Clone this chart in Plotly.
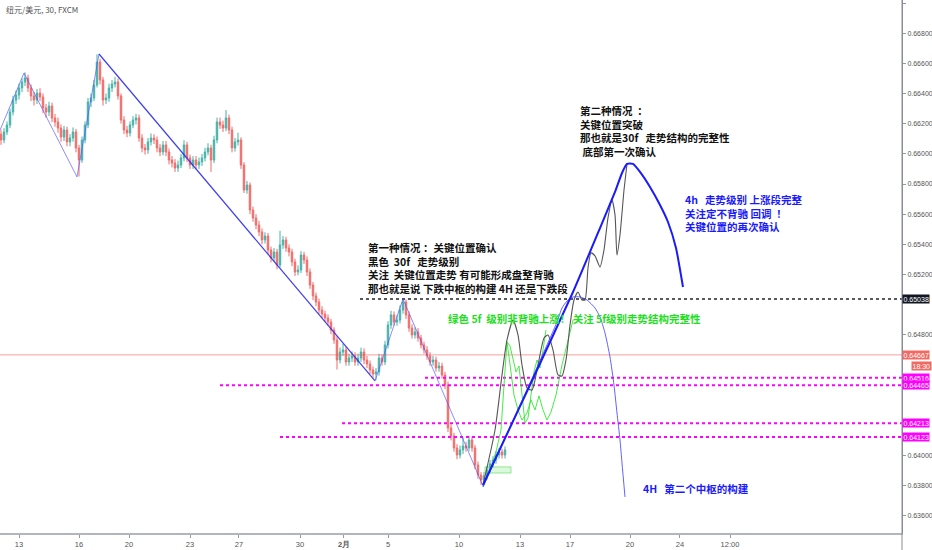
import plotly.graph_objects as go

# ---------------- candle data (30-min NZD/USD, condensed) ----------------
first_open = 0.66130
closes = [
    0.66092, 0.66145, 0.66191, 0.66277, 0.66357, 0.66390, 0.66437, 0.66476, 0.66503, 0.66437,
    0.66384, 0.66357, 0.66403, 0.66377, 0.66304, 0.66277, 0.66317, 0.66238, 0.66211, 0.66171,
    0.66112, 0.66158, 0.66079, 0.66105, 0.66145, 0.66039, 0.65959, 0.66092, 0.66191, 0.66344,
    0.66370, 0.66456, 0.66609, 0.66490, 0.66357, 0.66370, 0.66437, 0.66463, 0.66476, 0.66384,
    0.66224, 0.66158, 0.66138, 0.66191, 0.66224, 0.66238, 0.66105, 0.66039, 0.66026, 0.66079,
    0.66105, 0.66092, 0.66039, 0.66012, 0.66059, 0.66012, 0.65959, 0.65939, 0.65906, 0.65926,
    0.65973, 0.66059, 0.65973, 0.65926, 0.65959, 0.65926, 0.65946, 0.65973, 0.66012, 0.66039,
    0.65959, 0.66092, 0.66211, 0.66191, 0.66171, 0.66238, 0.66158, 0.66039, 0.66079, 0.66092,
    0.65926, 0.65760, 0.65793, 0.65628, 0.65575, 0.65528, 0.65482, 0.65429, 0.65455, 0.65363,
    0.65310, 0.65349, 0.65263, 0.65396, 0.65429, 0.65376, 0.65349, 0.65283, 0.65217, 0.65230,
    0.65329, 0.65296, 0.65217, 0.65130, 0.65058, 0.65018, 0.64965, 0.64938, 0.64912, 0.64885,
    0.64832, 0.64766, 0.64633, 0.64686, 0.64700, 0.64620, 0.64646, 0.64660, 0.64620, 0.64646,
    0.64686, 0.64633, 0.64607, 0.64567, 0.64540, 0.64554, 0.64646, 0.64620, 0.64733, 0.64865,
    0.64932, 0.64885, 0.64898, 0.64965, 0.65018, 0.64932, 0.64845, 0.64799, 0.64819, 0.64779,
    0.64733, 0.64700, 0.64660, 0.64620, 0.64633, 0.64580, 0.64593, 0.64534, 0.64467, 0.64182,
    0.64129, 0.64050, 0.64003, 0.64037, 0.64063, 0.64050, 0.64103, 0.64050, 0.63937, 0.63871,
    0.63838, 0.63864, 0.63904, 0.63944, 0.63970, 0.64003, 0.64023, 0.64003, 0.64037,
]
highs = [
    0.66160, 0.66170, 0.66215, 0.66300, 0.66385, 0.66420, 0.66465, 0.66500, 0.66540, 0.66525,
    0.66460, 0.66410, 0.66430, 0.66435, 0.66400, 0.66330, 0.66345, 0.66340, 0.66265, 0.66240,
    0.66195, 0.66185, 0.66180, 0.66130, 0.66175, 0.66165, 0.66060, 0.66115, 0.66215, 0.66370,
    0.66400, 0.66490, 0.66660, 0.66630, 0.66510, 0.66400, 0.66465, 0.66490, 0.66510, 0.66500,
    0.66400, 0.66250, 0.66185, 0.66215, 0.66250, 0.66265, 0.66260, 0.66130, 0.66065, 0.66105,
    0.66135, 0.66130, 0.66115, 0.66065, 0.66085, 0.66085, 0.66035, 0.65985, 0.65965, 0.65955,
    0.66000, 0.66090, 0.66080, 0.65995, 0.65985, 0.65985, 0.65975, 0.66000, 0.66040, 0.66070,
    0.66060, 0.66120, 0.66240, 0.66240, 0.66220, 0.66290, 0.66260, 0.66180, 0.66105, 0.66140,
    0.66110, 0.65945, 0.65820, 0.65810, 0.65650, 0.65600, 0.65555, 0.65505, 0.65480, 0.65475,
    0.65385, 0.65375, 0.65370, 0.65490, 0.65455, 0.65450, 0.65400, 0.65370, 0.65305, 0.65260,
    0.65355, 0.65350, 0.65320, 0.65240, 0.65150, 0.65080, 0.65040, 0.64990, 0.64960, 0.64935,
    0.64905, 0.64850, 0.64790, 0.64715, 0.64740, 0.64720, 0.64675, 0.64690, 0.64685, 0.64675,
    0.64715, 0.64710, 0.64660, 0.64630, 0.64590, 0.64580, 0.64675, 0.64670, 0.64760, 0.64890,
    0.64960, 0.64955, 0.64930, 0.64995, 0.65040, 0.65035, 0.64955, 0.64870, 0.64850, 0.64845,
    0.64800, 0.64755, 0.64725, 0.64685, 0.64660, 0.64655, 0.64620, 0.64615, 0.64555, 0.64490,
    0.64205, 0.64150, 0.64075, 0.64065, 0.64120, 0.64090, 0.64130, 0.64125, 0.64070, 0.63960,
    0.63890, 0.63890, 0.63930, 0.63970, 0.63995, 0.64030, 0.64050, 0.64045, 0.64060,
]
lows = [
    0.66060, 0.66070, 0.66125, 0.66170, 0.66255, 0.66330, 0.66360, 0.66410, 0.66450, 0.66410,
    0.66350, 0.66320, 0.66330, 0.66350, 0.66270, 0.66240, 0.66250, 0.66210, 0.66180, 0.66140,
    0.66080, 0.66085, 0.66050, 0.66050, 0.66080, 0.66010, 0.65850, 0.65940, 0.66070, 0.66170,
    0.66310, 0.66350, 0.66440, 0.66460, 0.66320, 0.66330, 0.66345, 0.66410, 0.66440, 0.66360,
    0.66200, 0.66130, 0.66110, 0.66115, 0.66170, 0.66195, 0.66080, 0.66010, 0.65995, 0.66000,
    0.66055, 0.66065, 0.66010, 0.65985, 0.65990, 0.65985, 0.65930, 0.65910, 0.65880, 0.65880,
    0.65905, 0.65950, 0.65945, 0.65900, 0.65900, 0.65900, 0.65900, 0.65920, 0.65950, 0.65990,
    0.65880, 0.65940, 0.66070, 0.66165, 0.66145, 0.66150, 0.66130, 0.66010, 0.66015, 0.66055,
    0.65900, 0.65740, 0.65735, 0.65600, 0.65550, 0.65500, 0.65455, 0.65400, 0.65405, 0.65335,
    0.65280, 0.65285, 0.65235, 0.65245, 0.65370, 0.65350, 0.65320, 0.65255, 0.65190, 0.65195,
    0.65210, 0.65270, 0.65190, 0.65105, 0.65030, 0.64990, 0.64940, 0.64910, 0.64885, 0.64860,
    0.64805, 0.64740, 0.64570, 0.64610, 0.64660, 0.64595, 0.64595, 0.64620, 0.64595, 0.64595,
    0.64620, 0.64605, 0.64580, 0.64540, 0.64515, 0.64500, 0.64530, 0.64595, 0.64600, 0.64710,
    0.64840, 0.64860, 0.64860, 0.64875, 0.64940, 0.64905, 0.64820, 0.64775, 0.64775, 0.64755,
    0.64710, 0.64675, 0.64635, 0.64595, 0.64595, 0.64555, 0.64555, 0.64510, 0.64440, 0.64155,
    0.64100, 0.64025, 0.63975, 0.63980, 0.64010, 0.64025, 0.64030, 0.64025, 0.63910, 0.63845,
    0.63805, 0.63815, 0.63840, 0.63880, 0.63920, 0.63945, 0.63980, 0.63980, 0.63980,
]
opens = [first_open] + closes[:-1]
bars = list(range(len(closes)))

# ---------------- axes ----------------
x_tick_bars = [6, 26, 42.67, 63, 79.33, 99.67, 114.33, 129, 152.67, 173, 189.67, 209.67, 226.33, 243]
x_tick_text = ["13", "16", "20", "23", "27", "30", "<b>2月</b>", "5", "10", "13", "17", "20", "24", "12:00"]
# tick labels that are not covered by the price boxes
y_tick_vals = [0.636, 0.638, 0.640, 0.648, 0.652,
               0.654, 0.656, 0.658, 0.660, 0.662, 0.664, 0.666, 0.668, 0.670]
X_RANGE = [-0.333, 300.333]
Y_RANGE = [0.63486, 0.67020]

# ---------------- drawings (bar index, price) ----------------
zig_a_x = [-0.3, 7.67, 25.33, 32.67]
zig_a_y = [0.66158, 0.66536, 0.65847, 0.66662]
trend_x = [32.67, 124.67]
trend_y = [0.66662, 0.64494]
zig_b_x = [124.67, 134, 160.67]
zig_b_y = [0.64494, 0.65038, 0.63798]

thick_x = [160.67, 176.33, 190.67, 199.67, 204.67, 207, 208.67, 210.67, 213, 216.33, 219.67, 222.33, 225, 227.33]
thick_y = [0.63804, 0.64467, 0.65084, 0.65508, 0.65747, 0.65873, 0.65933, 0.65933, 0.65880, 0.65780,
           0.65661, 0.65548, 0.65376, 0.65117]

arc_x = [160.67, 185.33, 187, 188.67, 190.67, 193, 195.33, 198, 199.67, 201.33, 203, 204.33, 205.33, 206.33, 207, 208]
arc_y = [0.63791, 0.64885, 0.64978, 0.65024, 0.65051, 0.65051, 0.65031, 0.64978, 0.64918, 0.64812,
         0.64653, 0.64467, 0.64282, 0.64103, 0.63950, 0.63725]

gray_x = [160.67, 164.67, 167, 168.67, 170.67, 172.33, 173.67, 175.33, 177, 179, 181, 182.33, 184, 185.67,
          187, 188.33, 189.67, 191, 192.33, 193.67, 194.67, 195.67, 196.67, 198, 199.67, 201, 202.33,
          203.67, 204.67, 205.33, 206.33, 207.67, 208.67]
gray_y = [0.63804, 0.64169, 0.64534, 0.64766, 0.64898, 0.64799, 0.64600, 0.64448, 0.64434, 0.64600,
          0.64779, 0.64799, 0.64700, 0.64534, 0.64527, 0.64633, 0.64865, 0.65031, 0.65084, 0.65031,
          0.65031, 0.65243, 0.65343, 0.65323, 0.65250, 0.65363, 0.65575, 0.65694, 0.65595, 0.65329,
          0.65462, 0.65760, 0.65933]

green1_x = [160.67, 163, 165, 166.67, 167.67, 168.67, 169.67, 170.67, 171.67, 172.67, 173.67, 174.67,
            175.67, 176.67, 177.67, 178.67, 179.67, 180.67, 181.67]
green1_y = [0.63791, 0.63904, 0.64023, 0.64169, 0.64467, 0.64753, 0.64726, 0.64646, 0.64554, 0.64593,
            0.64421, 0.64216, 0.64249, 0.64395, 0.64554, 0.64633, 0.64580, 0.64700, 0.64832]
green2_x = [168.67, 169.67, 171, 172.33, 173.67, 175.33, 176.67, 178, 179.33, 180.67, 182, 183.33,
            185, 187, 189, 190.67]
green2_y = [0.64753, 0.64600, 0.64401, 0.64302, 0.64235, 0.64282, 0.64368, 0.64302, 0.64395, 0.64302,
            0.64235, 0.64288, 0.64401, 0.64600, 0.64766, 0.64898]
green_box_x = [161.33, 170, 170, 161.33, 161.33]
green_box_y = [0.63884, 0.63884, 0.63924, 0.63924, 0.63884]

# horizontal levels
level_black_start, level_black = 119.67, 0.65038
last_price = 0.64667
magenta_starts = [141.33, 73, 113.67, 93]
magenta_levels = [0.64516, 0.64465, 0.64213, 0.64123]
countdown = "18:30"

# ---------------- text ----------------
title_text = "纽元/美元, 30, FXCM"
block1 = ["第一种情况 ：关键位置确认",
          "黑色  30f   走势级别",
          "关注  关键位置走势 有可能形成盘整背驰",
          "那也就是说 下跌中枢的构建 4H 还是下跌段"]
block2 = ["第二种情况  ：",
          "关键位置突破",
          "那也就是30f   走势结构的完整性",
          " 底部第一次确认"]
block_blue = ["4h   走势级别 上涨段完整",
              "关注定不背驰 回调  ！",
              "关键位置的再次确认"]
green_text = "绿色 5f  级别非背驰上涨！ 关注 5f级别走势结构完整性"
blue_text2 = "4H   第二个中枢的构建"

W, H = 932, 550
PW, PH = 902, 533


def px(xp, yp):
    return xp / PW, 1 - yp / PH


fig = go.Figure()

fig.add_trace(go.Scatter(x=X_RANGE, y=[last_price, last_price], mode="lines",
                         line=dict(color="rgba(239,83,80,0.55)", width=1), hoverinfo="skip"))
for s, lv in zip(magenta_starts, magenta_levels):
    fig.add_trace(go.Scatter(x=[s, X_RANGE[1]], y=[lv, lv], mode="lines",
                             line=dict(color="#ff00ff", width=2, dash="dot"), hoverinfo="skip"))
fig.add_trace(go.Scatter(x=[level_black_start, X_RANGE[1]], y=[level_black, level_black], mode="lines",
                         line=dict(color="#222222", width=1.5, dash="dot"), hoverinfo="skip"))

fig.add_trace(go.Candlestick(
    x=bars, open=opens, high=highs, low=lows, close=closes,
    increasing=dict(line=dict(color="#26a69a", width=1), fillcolor="#26a69a"),
    decreasing=dict(line=dict(color="#ef5350", width=1), fillcolor="#ef5350"),
    whiskerwidth=0, opacity=0.85, hoverinfo="skip"))

fig.add_trace(go.Scatter(x=zig_a_x, y=zig_a_y, mode="lines",
                         line=dict(color="rgba(80,80,255,0.65)", width=1), hoverinfo="skip"))
fig.add_trace(go.Scatter(x=trend_x, y=trend_y, mode="lines",
                         line=dict(color="rgba(40,40,240,0.9)", width=1.2), hoverinfo="skip"))
fig.add_trace(go.Scatter(x=zig_b_x, y=zig_b_y, mode="lines",
                         line=dict(color="rgba(80,80,255,0.65)", width=1), hoverinfo="skip"))
fig.add_trace(go.Scatter(x=green_box_x, y=green_box_y, mode="lines", fill="toself",
                         fillcolor="rgba(120,230,120,0.25)",
                         line=dict(color="rgba(80,220,80,0.6)", width=1), hoverinfo="skip"))
fig.add_trace(go.Scatter(x=green1_x, y=green1_y, mode="lines",
                         line=dict(color="rgba(40,230,40,0.85)", width=1), hoverinfo="skip"))
fig.add_trace(go.Scatter(x=green2_x, y=green2_y, mode="lines",
                         line=dict(color="rgba(40,230,40,0.85)", width=1), hoverinfo="skip"))
fig.add_trace(go.Scatter(x=gray_x, y=gray_y, mode="lines", line_shape="spline",
                         line=dict(color="#555555", width=1.1, smoothing=0.6), hoverinfo="skip"))
fig.add_trace(go.Scatter(x=arc_x, y=arc_y, mode="lines", line_shape="spline",
                         line=dict(color="rgba(70,70,255,0.85)", width=1, smoothing=0.6), hoverinfo="skip"))
fig.add_trace(go.Scatter(x=thick_x, y=thick_y, mode="lines", line_shape="spline",
                         line=dict(color="#1a1aff", width=2, smoothing=0.5), hoverinfo="skip"))

ann = []
CJK = "Noto Sans CJK SC"
x0, y0 = px(4, 10)
ann.append(dict(x=x0, y=y0, xref="paper", yref="paper", text=title_text, showarrow=False,
                xanchor="left", yanchor="middle", font=dict(family=CJK, size=8, color="#555555")))


def block(lines, xp, ytop, color, size=10.5):
    xx, yy = px(xp, ytop)
    return dict(x=xx, y=yy, xref="paper", yref="paper", text="<br>".join(lines), showarrow=False,
                xanchor="left", yanchor="top", align="left", borderpad=0,
                font=dict(family=CJK, size=size, color=color, weight="bold"))


ann.append(block(block1, 367, 239, "#111111"))
ann.append(block(block2, 579, 101.5, "#111111"))
ann.append(block(block_blue, 684, 190.5, "#1a1aff"))
ann.append(block([green_text], 446.7, 310, "#1ee01e"))
ann.append(block([blue_text2], 641.7, 480, "#1a1aff"))

LBL = dict(family="Liberation Sans", size=7, color="#ffffff")


def price_label(v, bg, text=None, yshift=0, xshift=0):
    return dict(x=1, y=v, xref="paper", yref="y", text=text or f"{v:.5f}", showarrow=False,
                xanchor="left", yanchor="middle", bgcolor=bg, borderpad=0.5, font=LBL,
                yshift=yshift, xshift=xshift)


ann.append(price_label(level_black, "#131722"))
ann.append(price_label(last_price, "#ef6a62"))
ann.append(price_label(last_price, "#ef6a62", text=countdown, yshift=-11.5, xshift=9))
for lv in magenta_levels:
    ann.append(price_label(lv, "#ff00ff"))

fig.update_layout(
    width=W, height=H,
    margin=dict(l=0, r=W - PW, t=0, b=H - PH),
    paper_bgcolor="white", plot_bgcolor="white",
    showlegend=False,
    annotations=ann,
    xaxis=dict(range=X_RANGE, rangeslider=dict(visible=False), showgrid=False, zeroline=False,
               tickmode="array", tickvals=x_tick_bars, ticktext=x_tick_text,
               ticks="outside", ticklen=3, tickcolor="#9598a1",
               tickfont=dict(family="Liberation Sans", size=7.5, color="#555555"),
               showline=True, linecolor="#b2b5be", linewidth=2, automargin=False, fixedrange=True),
    yaxis=dict(range=Y_RANGE, side="right", showgrid=False, zeroline=False,
               tickmode="array", tickvals=y_tick_vals, tickformat=".5f",
               ticks="outside", ticklen=3, tickcolor="#9598a1",
               tickfont=dict(family="Liberation Sans", size=7, color="#555555"),
               showline=True, linecolor="#8a8d96", linewidth=1, automargin=False, fixedrange=True),
    shapes=[dict(type="line", xref="paper", yref="paper", x0=1, x1=1, y0=-(H - PH) / PH, y1=1,
                 line=dict(color="#8a8d96", width=1))],
)

fig.write_html("out.html", config={"displayModeBar": False},
               post_script="document.body.style.margin='0';")
